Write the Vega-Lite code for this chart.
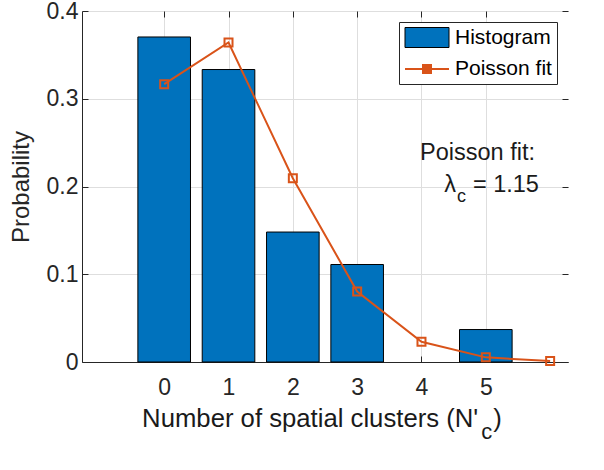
{
  "$schema": "https://vega.github.io/schema/vega-lite/v6.json",
  "width": 486,
  "height": 351,
  "autosize": "none",
  "padding": {"left": 82, "top": 11, "right": 36, "bottom": 108},
  "background": "white",
  "config": {
    "view": {"stroke": null},
    "font": "Liberation Sans",
    "legend": {
      "title": null,
      "orient": "top-right",
      "offset": 11,
      "labelFontSize": 21,
      "labelColor": "black",
      "labelFont": "Liberation Sans",
      "symbolSize": 400,
      "labelOffset": 29,
      "rowPadding": 8,
      "padding": 5,
      "strokeColor": "#262626",
      "fillColor": "white",
      "cornerRadius": 0,
      "symbolOpacity": 1
    }
  },
  "datasets": {
    "hist": [
      {"n": 0, "p": 0.3704},
      {"n": 1, "p": 0.3333},
      {"n": 2, "p": 0.1481},
      {"n": 3, "p": 0.1111},
      {"n": 5, "p": 0.0370}
    ],
    "fit": [
      {"n": 0, "p": 0.3166},
      {"n": 1, "p": 0.3641},
      {"n": 2, "p": 0.2094},
      {"n": 3, "p": 0.0803},
      {"n": 4, "p": 0.0231},
      {"n": 5, "p": 0.0053},
      {"n": 6, "p": 0.0010}
    ],
    "series": []
  },
  "layer": [
    {
      "data": {"name": "hist"},
      "mark": {"type": "bar", "size": 52.6, "stroke": "black", "strokeWidth": 1, "fill": "#0072BD"},
      "encoding": {
        "x": {
          "field": "n", "type": "quantitative",
          "scale": {"domain": [-1.2, 6.2], "nice": false, "zero": false},
          "axis": {
            "values": [0, 1, 2, 3, 4, 5], "format": "d", "title": null,
            "labelFontSize": 23, "labelColor": "#262626", "labelFont": "Liberation Sans",
            "tickColor": "#262626", "tickSize": -6, "domainColor": "#262626",
            "grid": true, "gridColor": "#dedede", "labelPadding": 20
          }
        },
        "y": {
          "field": "p", "type": "quantitative",
          "scale": {"domain": [0, 0.4], "nice": false},
          "axis": {
            "values": [0, 0.1, 0.2, 0.3, 0.4], "format": ".1~f", "title": "Probability",
            "titleFontSize": 24, "titleFontWeight": "normal", "titleColor": "#262626", "titleFont": "Liberation Sans",
            "titlePadding": 13,
            "labelFontSize": 23, "labelColor": "#262626", "labelFont": "Liberation Sans",
            "tickColor": "#262626", "tickSize": -6, "domainColor": "#262626",
            "grid": true, "gridColor": "#dedede", "labelPadding": 10
          }
        }
      }
    },
    {
      "data": {"name": "fit"},
      "mark": {
        "type": "line", "strokeWidth": 2, "color": "#D95319",
        "point": {"shape": "square", "filled": false, "size": 64, "strokeWidth": 2, "color": "#D95319"}
      },
      "encoding": {
        "x": {
          "field": "n", "type": "quantitative",
          "axis": {"orient": "top", "values": [0, 1, 2, 3, 4, 5], "labels": false, "domain": false, "grid": false, "tickSize": -6, "tickColor": "#262626", "title": null}
        },
        "y": {
          "field": "p", "type": "quantitative",
          "axis": {"orient": "right", "values": [0, 0.1, 0.2, 0.3, 0.4], "labels": false, "domain": false, "grid": false, "tickSize": -6, "tickColor": "#262626", "title": null}
        }
      }
    },
    {
      "data": {"name": "series"},
      "mark": {"type": "point", "filled": true},
      "encoding": {
        "color": {
          "field": "k", "type": "nominal",
          "scale": {"domain": ["Histogram", "Poisson fit"], "range": ["#0072BD", "#D95319"]}
        },
        "stroke": {
          "field": "k", "type": "nominal",
          "scale": {"domain": ["Histogram", "Poisson fit"], "range": ["black", "#D95319"]}
        },
        "shape": {
          "field": "k", "type": "nominal",
          "scale": {"domain": ["Histogram", "Poisson fit"], "range": ["M-1,-1H3.4V1H-1Z", "M-1,0H3.4M0.8,-0.4H1.6V0.4H0.8Z"]}
        },
        "strokeWidth": {
          "field": "k", "type": "nominal",
          "scale": {"domain": ["Histogram", "Poisson fit"], "range": [1, 2]}
        }
      }
    },
    {
      "data": {"values": [{"t": "Poisson fit:"}]},
      "mark": {"type": "text", "align": "right", "baseline": "alphabetic", "fontSize": 23.5, "color": "#1a1a1a"},
      "encoding": {
        "x": {"datum": 5.764, "type": "quantitative", "axis": null},
        "y": {"datum": 0.2302, "type": "quantitative", "axis": null},
        "text": {"field": "t"}
      }
    },
    {
      "data": {"values": [{"t": "= 1.15"}]},
      "mark": {"type": "text", "align": "right", "baseline": "alphabetic", "fontSize": 23.5, "color": "#1a1a1a"},
      "encoding": {
        "x": {"datum": 5.825, "type": "quantitative", "axis": null},
        "y": {"datum": 0.1937, "type": "quantitative", "axis": null},
        "text": {"field": "t"}
      }
    },
    {
      "data": {"values": [{"t": "λ"}]},
      "mark": {"type": "text", "align": "right", "baseline": "alphabetic", "fontSize": 23.5, "dx": -83, "color": "#1a1a1a"},
      "encoding": {
        "x": {"datum": 5.825, "type": "quantitative", "axis": null},
        "y": {"datum": 0.1937, "type": "quantitative", "axis": null},
        "text": {"field": "t"}
      }
    },
    {
      "data": {"values": [{"t": "c"}]},
      "mark": {"type": "text", "align": "right", "baseline": "alphabetic", "fontSize": 18, "dx": -73, "dy": 10, "color": "#1a1a1a"},
      "encoding": {
        "x": {"datum": 5.825, "type": "quantitative", "axis": null},
        "y": {"datum": 0.1937, "type": "quantitative", "axis": null},
        "text": {"field": "t"}
      }
    },
    {
      "data": {"values": [{"t": "Number of spatial clusters (N'"}]},
      "mark": {"type": "text", "align": "right", "baseline": "alphabetic", "fontSize": 25.7, "color": "#1a1a1a"},
      "encoding": {
        "x": {"datum": 4.882, "type": "quantitative", "axis": null},
        "y": {"datum": -0.0741, "type": "quantitative", "axis": null},
        "text": {"field": "t"}
      }
    },
    {
      "data": {"values": [{"t": "c"}]},
      "mark": {"type": "text", "align": "left", "baseline": "alphabetic", "fontSize": 22, "dx": 3, "dy": 12, "color": "#1a1a1a"},
      "encoding": {
        "x": {"datum": 4.882, "type": "quantitative", "axis": null},
        "y": {"datum": -0.0741, "type": "quantitative", "axis": null},
        "text": {"field": "t"}
      }
    },
    {
      "data": {"values": [{"t": ")"}]},
      "mark": {"type": "text", "align": "left", "baseline": "alphabetic", "fontSize": 25.7, "dx": 15, "color": "#1a1a1a"},
      "encoding": {
        "x": {"datum": 4.882, "type": "quantitative", "axis": null},
        "y": {"datum": -0.0741, "type": "quantitative", "axis": null},
        "text": {"field": "t"}
      }
    },
    {
      "data": {"values": [{"t": "Fig. 4. The number of spatial clusters for 142 GHz UMi"}]},
      "mark": {"type": "text", "align": "left", "baseline": "alphabetic", "font": "Liberation Serif", "fontSize": 30, "dx": -139, "color": "black"},
      "encoding": {
        "x": {"datum": -1.2, "type": "quantitative", "axis": null},
        "y": {"datum": -0.147, "type": "quantitative", "axis": null},
        "text": {"field": "t"}
      }
    }
  ],
  "resolve": {"axis": {"x": "independent", "y": "independent"}}
}
